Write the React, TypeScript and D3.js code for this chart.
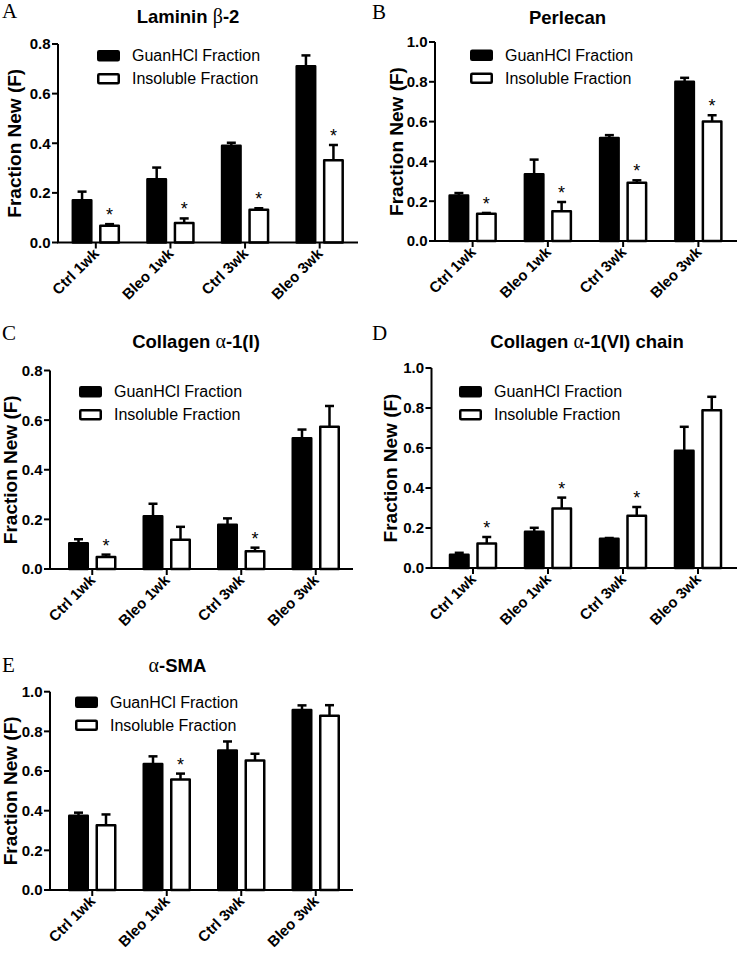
import React from 'react';
import * as d3 from 'd3';

const categories = ['Ctrl 1wk', 'Bleo 1wk', 'Ctrl 3wk', 'Bleo 3wk'];
const seriesNames = ['GuanHCl Fraction', 'Insoluble Fraction'];

// Panel A: Laminin β-2
const lamininGuan = [0.17, 0.255, 0.39, 0.71];
const lamininGuanSem = [0.035, 0.047, 0.012, 0.044];
const lamininIns = [0.068, 0.079, 0.132, 0.331];
const lamininInsSem = [0.006, 0.018, 0.006, 0.062];
const lamininStars = [true, true, true, true];

// Panel B: Perlecan
const perlecanGuan = [0.229, 0.335, 0.517, 0.8];
const perlecanGuanSem = [0.012, 0.074, 0.015, 0.02];
const perlecanIns = [0.137, 0.15, 0.293, 0.601];
const perlecanInsSem = [0.004, 0.046, 0.012, 0.031];
const perlecanStars = [true, true, true, true];

// Panel C: Collagen α-1(I)
const col1Guan = [0.104, 0.213, 0.178, 0.527];
const col1GuanSem = [0.016, 0.05, 0.026, 0.035];
const col1Ins = [0.048, 0.118, 0.072, 0.573];
const col1InsSem = [0.01, 0.052, 0.014, 0.084];
const col1Stars = [true, false, true, false];

// Panel D: Collagen α-1(VI) chain
const col6Guan = [0.066, 0.181, 0.146, 0.586];
const col6GuanSem = [0.01, 0.02, 0.004, 0.12];
const col6Ins = [0.123, 0.298, 0.261, 0.789];
const col6InsSem = [0.032, 0.054, 0.044, 0.067];
const col6Stars = [true, true, true, false];

// Panel E: α-SMA
const smaGuan = [0.374, 0.636, 0.703, 0.908];
const smaGuanSem = [0.016, 0.038, 0.046, 0.023];
const smaIns = [0.326, 0.557, 0.653, 0.879];
const smaInsSem = [0.055, 0.03, 0.034, 0.053];
const smaStars = [false, true, false, false];

const yTicks08 = [0, 0.2, 0.4, 0.6, 0.8];
const yTicks10 = [0, 0.2, 0.4, 0.6, 0.8, 1.0];

const panels = [
  {
    letter: 'A', titleParts: [['Laminin ', 's'], ['β', 'g'], ['-2', 's']],
    guan: lamininGuan, guanSem: lamininGuanSem, ins: lamininIns, insSem: lamininInsSem, stars: lamininStars,
    ticks: yTicks08,
  },
  {
    letter: 'B', titleParts: [['Perlecan', 's']],
    guan: perlecanGuan, guanSem: perlecanGuanSem, ins: perlecanIns, insSem: perlecanInsSem, stars: perlecanStars,
    ticks: yTicks10,
  },
  {
    letter: 'C', titleParts: [['Collagen ', 's'], ['α', 'g'], ['-1(I)', 's']],
    guan: col1Guan, guanSem: col1GuanSem, ins: col1Ins, insSem: col1InsSem, stars: col1Stars,
    ticks: yTicks08,
  },
  {
    letter: 'D', titleParts: [['Collagen ', 's'], ['α', 'g'], ['-1(VI) chain', 's']],
    guan: col6Guan, guanSem: col6GuanSem, ins: col6Ins, insSem: col6InsSem, stars: col6Stars,
    ticks: yTicks10,
  },
  {
    letter: 'E', titleParts: [['α', 'g'], ['-SMA', 's']],
    guan: smaGuan, guanSem: smaGuanSem, ins: smaIns, insSem: smaInsSem, stars: smaStars,
    ticks: yTicks10,
  },
];

// layout (pixel positions) per panel
const layouts = [
  { letter: [2, 17.5], title: [188, 23], yAxisX: 58, band: [58.5, 357], axisEnd: 358, yRange: [242.5, 44], legend: [97, 50], yLabelX: 21 },
  { letter: [372, 18.5], title: [567.5, 24], yAxisX: 435, band: [435, 736], axisEnd: 737, yRange: [241, 42], legend: [470, 49.5], yLabelX: 403 },
  { letter: [2, 340], title: [196, 348], yAxisX: 50, band: [55, 353], axisEnd: 353, yRange: [569, 370.5], legend: [79, 386], yLabelX: 17 },
  { letter: [372, 339.5], title: [587, 348], yAxisX: 431.5, band: [435.5, 735.5], axisEnd: 737, yRange: [568, 368], legend: [459, 386], yLabelX: 397 },
  { letter: [2, 671.5], title: [177.5, 672], yAxisX: 50, band: [55, 353], axisEnd: 353, yRange: [890, 691.7], legend: [75, 696.5], yLabelX: 17 },
];

const SANS = '"Liberation Sans", Arial, sans-serif';
const SERIF = '"Liberation Serif", "Times New Roman", serif';
const SW = 2.5;

function Panel({ p, L }: any) {
  const yMax = p.ticks[p.ticks.length - 1];
  const y = d3.scaleLinear().domain([0, yMax]).range(L.yRange);
  const x = d3.scaleBand().domain(categories).range(L.band).padding(0);
  const inner = d3.scaleBand().domain(seriesNames).range([-24.25, 24.25]).paddingInner(0.236);
  const bw = inner.bandwidth();
  const y0 = y(0);
  const fmt = d3.format('.1f');
  const yMid = (L.yRange[0] + L.yRange[1]) / 2;

  const series = [
    { name: seriesNames[0], vals: p.guan, sem: p.guanSem, fill: '#000', stars: null },
    { name: seriesNames[1], vals: p.ins, sem: p.insSem, fill: '#fff', stars: p.stars },
  ];

  return (
    <g>
      <text x={L.letter[0]} y={L.letter[1]} fontFamily={SERIF} fontSize={21}>{p.letter}</text>
      <text x={L.title[0]} y={L.title[1]} textAnchor="middle" fontFamily={SANS} fontSize={18.5} fontWeight="bold">
        {p.titleParts.map((tp: any, i: number) => (
          <tspan key={i} fontFamily={tp[1] === 'g' ? SERIF : SANS} fontWeight={tp[1] === 'g' ? 'normal' : 'bold'} fontSize={tp[1] === 'g' ? 20 : 18.5}>{tp[0]}</tspan>
        ))}
      </text>
      {/* y axis */}
      <line x1={L.yAxisX} x2={L.yAxisX} y1={y(yMax)} y2={y0} stroke="#000" strokeWidth={2} />
      {p.ticks.map((t: number) => (
        <g key={t}>
          <line x1={L.yAxisX - 6} x2={L.yAxisX} y1={y(t)} y2={y(t)} stroke="#000" strokeWidth={2} />
          <text x={L.yAxisX - 7.5} y={y(t)} dy="0.36em" textAnchor="end" fontFamily={SANS} fontSize={15} fontWeight="bold">{fmt(t)}</text>
        </g>
      ))}
      <text transform={`translate(${L.yLabelX},${yMid}) rotate(-90)`} textAnchor="middle" fontFamily={SANS} fontSize={19} fontWeight="bold">Fraction New (F)</text>
      {/* bars */}
      {series.map((s) => (
        <g key={s.name}>
          {categories.map((c, i) => {
            const cx = (x(c) as number) + x.bandwidth() / 2;
            const bx = cx + (inner(s.name) as number);
            const top = y(s.vals[i]);
            const et = y(s.vals[i] + s.sem[i]);
            const mx = bx + bw / 2;
            return (
              <g key={c}>
                <line x1={mx} x2={mx} y1={top} y2={et} stroke="#000" strokeWidth={2.5} />
                <line x1={mx - 4.5} x2={mx + 4.5} y1={et} y2={et} stroke="#000" strokeWidth={2.5} />
                <rect x={bx + SW / 2} y={top} width={bw - SW} height={y0 - top} fill={s.fill} stroke="#000" strokeWidth={SW} strokeLinejoin="round" />
                {s.stars && s.stars[i] ? (
                  <text x={mx} y={et - 3} textAnchor="middle" fontFamily={SANS} fontSize={18}>*</text>
                ) : null}
              </g>
            );
          })}
        </g>
      ))}
      {/* x axis */}
      <line x1={L.yAxisX - 1} x2={L.axisEnd} y1={y0} y2={y0} stroke="#000" strokeWidth={2} />
      {categories.map((c) => {
        const cx = (x(c) as number) + x.bandwidth() / 2;
        return (
          <g key={c}>
            <line x1={cx} x2={cx} y1={y0} y2={y0 + 6} stroke="#000" strokeWidth={2} />
            <text transform={`translate(${cx + 4},${y0 + 12}) rotate(-45)`} textAnchor="end" fontFamily={SANS} fontSize={15} fontWeight="bold">{c}</text>
          </g>
        );
      })}
      {/* legend */}
      {series.map((s, i) => (
        <g key={s.name} transform={`translate(${L.legend[0]},${L.legend[1] + i * 23})`}>
          <rect x={SW / 2} y={SW / 2} width={23 - SW} height={11.5 - SW} fill={s.fill} stroke="#000" strokeWidth={SW} rx={1} />
          <text x={35} y={11.3} fontFamily={SANS} fontSize={16}>{s.name}</text>
        </g>
      ))}
    </g>
  );
}

export default function App() {
  return (
    <svg width={740} height={953} style={{ position: 'absolute', left: 0, top: 0, background: '#fff' }}>
      <rect width={740} height={953} fill="#fff" />
      {panels.map((p, i) => (
        <Panel key={p.letter} p={p} L={layouts[i]} />
      ))}
    </svg>
  );
}
